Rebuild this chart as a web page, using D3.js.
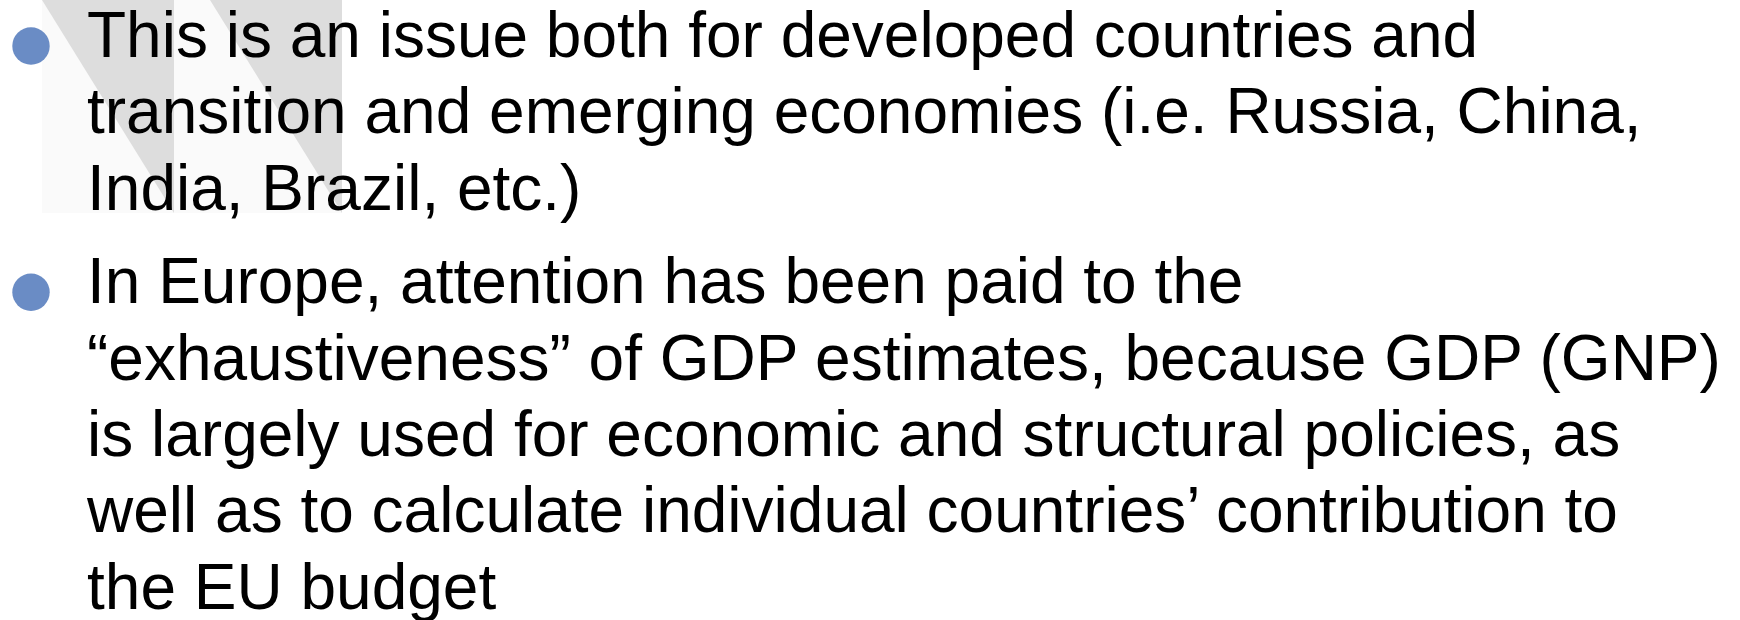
<!DOCTYPE html>
<html>
<head>
<meta charset="utf-8">
<script src="https://cdn.jsdelivr.net/npm/d3@7"></script>
<style>
  body { margin: 0; background: #fff; }
  svg { display: block; }
</style>
</head>
<body>
<div id="slide"></div>
<script>
var width = 1740;
var height = 620;

// bullet paragraphs, one entry per wrapped line
var bullet1 = [
  "This is an issue both for developed countries and",
  "transition and emerging economies (i.e. Russia, China,",
  "India, Brazil, etc.)"
];
var bullet2 = [
  "In Europe, attention has been paid to the",
  "\u201Cexhaustiveness\u201D of GDP estimates, because GDP (GNP)",
  "is largely used for economic and structural policies, as",
  "well as to calculate individual countries\u2019 contribution to",
  "the EU budget"
];
var paragraphs = [bullet1, bullet2];

// flatten into lines with paragraph + line index
var lines = [];
paragraphs.forEach(function(p, pi) {
  p.forEach(function(t, li) {
    lines.push({ text: t, para: pi, first: li === 0, idx: lines.length });
  });
});

var svg = d3.select("#slide")
  .append("svg")
  .attr("width", width)
  .attr("height", height);

// decorative background (quote-like chevrons)
var deco = svg.append("g");
deco.append("rect")
  .attr("x", 42).attr("y", 0)
  .attr("width", 300).attr("height", 213)
  .style("fill", "#fafafa");
[42, 210].forEach(function(x0) {
  deco.append("path")
    .attr("d", "M" + x0 + ",0L" + (x0 + 132) + ",0L" + (x0 + 132) + ",213Z")
    .style("fill", "#dddddd");
});

// baseline position of each line
var lineStep = 76.4;
var paraGap = 17;
var y = d3.scaleLinear().domain([0, 1]).range([57, 57 + lineStep]);
function baseline(d) { return y(d.idx) + paraGap * d.para; }

var textX = 87;

svg.append("g").selectAll("circle")
  .data(lines.filter(function(d) { return d.first; }))
  .enter()
  .append("circle")
  .attr("cx", 31)
  .attr("cy", function(d) { return baseline(d) - 11; })
  .attr("r", 18.7)
  .style("fill", "#6a8cc5");

svg.append("g").selectAll("text")
  .data(lines)
  .enter()
  .append("text")
  .attr("x", textX)
  .attr("y", baseline)
  .style("font-family", "'Liberation Sans', Arial, sans-serif")
  .style("font-size", "64px")
  .style("fill", "#000")
  .text(function(d) { return d.text; });
</script>
</body>
</html>
